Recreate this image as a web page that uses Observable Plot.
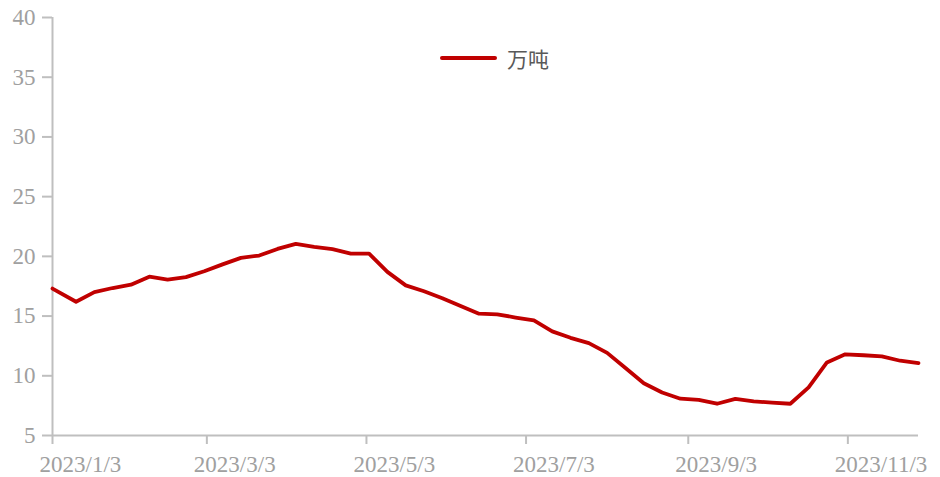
<!DOCTYPE html>
<html>
<head>
<meta charset="utf-8">
<script src="https://cdn.jsdelivr.net/npm/d3@7"></script>
<script src="https://cdn.jsdelivr.net/npm/@observablehq/plot@0.6"></script>
<style>
  html, body { margin: 0; padding: 0; background: #fff; }
  #wrap { position: relative; width: 940px; height: 477px; }
  #legend { position: absolute; left: 440px; top: 43px; display: flex; align-items: center; font-family: "Noto Sans CJK SC", sans-serif; font-size: 21px; color: #595959; }
  #legend .sw { width: 57px; height: 4px; background: #c00000; border-radius: 2px; margin-right: 10px; }
</style>
</head>
<body>
<div id="wrap">
  <div id="legend"><span class="sw"></span><span>万吨</span></div>
</div>
<script>
const seriesName = "万吨";
const dates = [
  "2023-01-03","2023-01-12","2023-01-19","2023-01-26","2023-02-02","2023-02-09","2023-02-16","2023-02-23",
  "2023-03-02","2023-03-09","2023-03-16","2023-03-23","2023-03-30","2023-04-06","2023-04-13","2023-04-20",
  "2023-04-27","2023-05-04","2023-05-11","2023-05-18","2023-05-25","2023-06-01","2023-06-08","2023-06-15",
  "2023-06-22","2023-06-29","2023-07-06","2023-07-13","2023-07-20","2023-07-27","2023-08-03","2023-08-10",
  "2023-08-17","2023-08-24","2023-08-31","2023-09-07","2023-09-14","2023-09-21","2023-09-28","2023-10-05",
  "2023-10-12","2023-10-19","2023-10-26","2023-11-02","2023-11-09","2023-11-16","2023-11-23","2023-11-30"
];
const values = [
  17.3, 16.2, 17.0, 17.35, 17.63, 18.3, 18.05, 18.26,
  18.75, 19.33, 19.87, 20.07, 20.62, 21.05, 20.8, 20.6,
  20.23, 20.23, 18.7, 17.57, 17.08, 16.5, 15.85, 15.2,
  15.15, 14.88, 14.64, 13.72, 13.18, 12.74, 11.92, 10.65,
  9.38, 8.6, 8.08, 7.99, 7.66, 8.07, 7.85, 7.76,
  7.66, 9.03, 11.12, 11.8, 11.72, 11.62, 11.26, 11.06
];
const xTickDates = ["2023-01-03","2023-03-03","2023-05-03","2023-07-03","2023-09-03","2023-11-03"];
const yTicks = [5, 10, 15, 20, 25, 30, 35, 40];

const data = dates.map((d, i) => ({date: new Date(d + "T00:00:00Z"), value: values[i]}));
const xTicks = xTickDates.map(d => new Date(d + "T00:00:00Z"));
const fmt = d => `${d.getUTCFullYear()}/${d.getUTCMonth() + 1}/${d.getUTCDate()}`;
const xDomain = [data[0].date, data[data.length - 1].date];

const axisColor = "#bfbfbf";
const labelColor = "#a0a0a0";
const serif = "'Liberation Serif', 'Times New Roman', serif";

const chart = Plot.plot({
  width: 940,
  height: 477,
  marginLeft: 52,
  marginRight: 22,
  marginTop: 17,
  marginBottom: 42,
  style: { fontFamily: serif, background: "#fff", overflow: "visible" },
  x: { type: "utc", domain: xDomain },
  y: { domain: [5, 40] },
  marks: [
    Plot.axisY(yTicks, {
      tickSize: 10, tickPadding: 7, stroke: axisColor, strokeWidth: 2,
      fill: labelColor, fontSize: 23, label: null
    }),
    // tick marks only
    Plot.axisX(xTicks, {
      tickSize: 9, stroke: axisColor, strokeWidth: 2,
      tickFormat: () => "", label: null
    }),
    // tick labels, left-shifted like the reference
    Plot.axisX(xTicks, {
      tickSize: 0, tickPadding: 20, fill: labelColor, fontSize: 23,
      label: null, tickFormat: fmt, textAnchor: "start", dx: -13
    }),
    Plot.ruleX([xDomain[0]], { stroke: axisColor, strokeWidth: 2 }),
    Plot.ruleY([5], { stroke: axisColor, strokeWidth: 2 }),
    Plot.lineY(data, { x: "date", y: "value", stroke: "#c00000", strokeWidth: 3.8, strokeLinejoin: "round" })
  ]
});
document.getElementById("wrap").prepend(chart);
</script>
</body>
</html>
